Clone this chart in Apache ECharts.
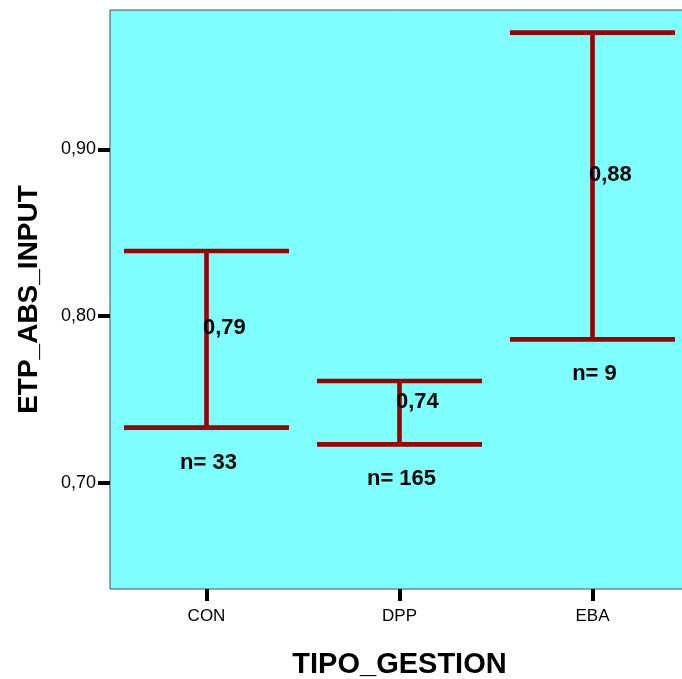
<!DOCTYPE html>
<html>
<head>
<meta charset="utf-8">
<script src="https://cdn.jsdelivr.net/npm/echarts@6/dist/echarts.min.js"></script>
<style>
html,body{margin:0;padding:0;background:#fff;}
#chart{width:682px;height:679px;}
</style>
</head>
<body>
<div id="chart"></div>
<script>
// Data
const categories = ['CON', 'DPP', 'EBA'];
const upperCI = [0.839, 0.761, 0.970];
const lowerCI = [0.733, 0.723, 0.786];
const means = [0.786, 0.742, 0.878];
const counts = [33, 165, 9];
const yTickValues = [0.70, 0.80, 0.90];

const FONT = '"Liberation Sans", Arial, sans-serif';
const RED = '#990000';

const seriesData = categories.map((c, i) => [i, upperCI[i], lowerCI[i], means[i], counts[i]]);

function fmt(v) { return v.toFixed(2).replace('.', ','); }

const chart = echarts.init(document.getElementById('chart'), null, { renderer: 'canvas' });
chart.setOption({
  animation: false,
  backgroundColor: '#ffffff',
  grid: {
    left: 110, top: 10, right: -7, bottom: 90,
    outerBoundsMode: 'none',
    containLabel: false,
    show: true, backgroundColor: '#80ffff', borderColor: '#4a4a4a', borderWidth: 1
  },
  xAxis: {
    type: 'category',
    data: categories,
    name: 'TIPO_GESTION',
    nameLocation: 'middle',
    nameGap: 61,
    nameTextStyle: { fontFamily: FONT, fontSize: 29, fontWeight: 'bold', color: '#000' },
    axisLine: { show: false },
    axisTick: { show: true, alignWithLabel: true, length: 12, lineStyle: { color: '#000', width: 4 } },
    axisLabel: { fontFamily: FONT, fontSize: 17, color: '#000', margin: 19 },
    splitLine: { show: false }
  },
  yAxis: {
    type: 'value',
    min: 0.6362,
    max: 0.9836,
    name: 'ETP_ABS_INPUT',
    nameLocation: 'middle',
    nameGap: 67,
    nameTextStyle: { fontFamily: FONT, fontSize: 28, fontWeight: 'bold', color: '#000' },
    axisLine: { show: false },
    axisTick: { show: true, length: 12, customValues: yTickValues, lineStyle: { color: '#000', width: 4 } },
    axisLabel: { fontFamily: FONT, fontSize: 18, color: '#000', margin: 14, customValues: yTickValues,
      padding: [3, 0, 0, 0], formatter: v => fmt(v) },
    splitLine: { show: false }
  },
  series: [{
    type: 'custom',
    data: seriesData,
    encode: { x: 0, y: [1, 2] },
    renderItem: function (params, api) {
      const idx = api.value(0);
      const pU = api.coord([idx, api.value(1)]);
      const pL = api.coord([idx, api.value(2)]);
      const pM = api.coord([idx, api.value(3)]);
      const half = api.size([1, 0])[0] * 0.855 / 2;
      const x = pU[0];
      const ls = { stroke: RED, lineWidth: 4.6 };
      return {
        type: 'group',
        children: [
          { type: 'line', shape: { x1: x, y1: pU[1], x2: x, y2: pL[1] }, style: ls },
          { type: 'line', shape: { x1: x - half, y1: pU[1], x2: x + half, y2: pU[1] }, style: ls },
          { type: 'line', shape: { x1: x - half, y1: pL[1], x2: x + half, y2: pL[1] }, style: ls },
          { type: 'text', style: { text: fmt(api.value(3)), x: x - 3.5, y: pM[1] - 11,
              align: 'left', verticalAlign: 'middle', font: 'bold 22px ' + FONT, fill: '#000' } },
          { type: 'text', style: { text: 'n= ' + api.value(4), x: x + 2, y: pL[1] + 35,
              align: 'center', verticalAlign: 'middle', font: 'bold 22px ' + FONT, fill: '#000' } }
        ]
      };
    }
  }]
});
</script>
</body>
</html>
